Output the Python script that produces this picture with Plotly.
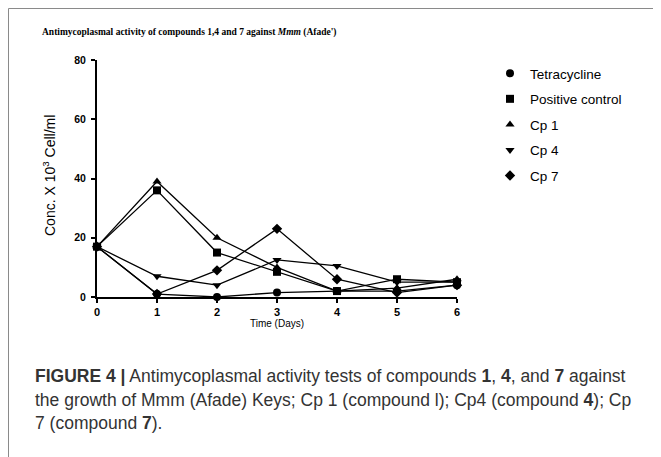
import plotly.graph_objects as go

days = [0, 1, 2, 3, 4, 5, 6]
series_names = ["Tetracycline", "Positive control", "Cp 1", "Cp 4", "Cp 7"]
tetracycline = [17, 1, 0, 1.5, 2, 2, 4]
positive_control = [17, 36, 15, 8.5, 2, 6, 5]
cp1 = [17, 39, 20, 10, 2, 3, 6]
cp4 = [17, 7, 4, 12.5, 10.5, 5, 5]
cp7 = [17, 1, 9, 23, 6, 1.5, 4]
y_ticks = [0, 20, 40, 60, 80]
x_ticks = [0, 1, 2, 3, 4, 5, 6]

symbols = ["circle", "square", "triangle-up", "triangle-down", "diamond"]
values = [tetracycline, positive_control, cp1, cp4, cp7]

# page offset of the figure (browser body margin)
OFF = 8
PLOT_L, PLOT_R, PLOT_T, PLOT_B = 97, 457, 60, 297  # page pixels


def px(page_x):
    return (page_x - PLOT_L) / (PLOT_R - PLOT_L)


def py(page_y):
    return (PLOT_B - page_y) / (PLOT_B - PLOT_T)


fig = go.Figure()
for i, (name, vals, sym) in enumerate(zip(series_names, values, symbols)):
    fig.add_trace(go.Scatter(
        x=days, y=vals, name=name, mode="lines+markers",
        line=dict(color="black", width=1.3),
        marker=dict(symbol=sym, size=8, color="black"),
        showlegend=False, cliponaxis=False,
    ))
# legend entries (marker only, like the reference key)
for i, (name, sym) in enumerate(zip(series_names, symbols)):
    fig.add_trace(go.Scatter(
        x=[None], y=[None], name=name, mode="markers",
        marker=dict(symbol=sym, size=8, color="black"),
        legendgroup=f"g{i}", showlegend=True,
    ))

fig.update_layout(
    width=661 - OFF, height=457 - OFF,
    margin=dict(l=PLOT_L - OFF, r=661 - PLOT_R, t=PLOT_T - OFF, b=457 - PLOT_B),
    paper_bgcolor="white", plot_bgcolor="white",
    showlegend=True,
    legend=dict(x=px(490), y=py(58), xanchor="left", yanchor="top",
                font=dict(family="Liberation Sans, Arial", size=13.5, color="black"),
                tracegroupgap=5, itemwidth=30, bgcolor="rgba(0,0,0,0)"),
    xaxis=dict(range=[0, 6], tickvals=x_ticks, ticktext=["<b>%d</b>" % v for v in x_ticks],
               showline=True, linecolor="black", linewidth=2, ticks="outside",
               ticklen=4, tickwidth=1.5, tickcolor="black", showgrid=False, zeroline=False,
               ticklabelstandoff=0,
               tickfont=dict(family="Liberation Sans, Arial", size=11, color="black"),
               title=dict(text="Time (Days)", font=dict(family="Liberation Sans, Arial", size=10, color="black"), standoff=3)),
    yaxis=dict(range=[0, 80], tickvals=y_ticks, ticktext=["<b>%d</b>" % v for v in y_ticks],
               showline=True, linecolor="black", linewidth=2, ticks="outside",
               ticklen=4, tickwidth=1.5, tickcolor="black", showgrid=False, zeroline=False,
               ticklabelstandoff=3,
               tickfont=dict(family="Liberation Sans, Arial", size=10.5, color="black")),
)

# y-axis title
fig.add_annotation(xref="paper", yref="paper", x=px(49), y=py(176), xanchor="center", yanchor="middle",
                   text="Conc. X 10<sup>3</sup> Cell/ml", textangle=-90, showarrow=False,
                   font=dict(family="Liberation Sans, Arial", size=14, color="black"))

# outer frame
fig.add_shape(type="rect", xref="paper", yref="paper",
              x0=px(OFF + 0.5), x1=px(655.5), y0=py(470), y1=py(OFF + 0.5),
              line=dict(color="#8a8a8a", width=1), fillcolor="rgba(0,0,0,0)", layer="below")

# chart title
fig.add_annotation(xref="paper", yref="paper", x=px(40), y=py(32), xanchor="left", yanchor="middle",
                   text="<b>Antimycoplasmal activity of compounds 1,4 and 7 against <i>Mmm</i> (Afade')</b>",
                   showarrow=False, font=dict(family="Liberation Serif, Times New Roman", size=9.5, color="black"))

caption_font = dict(family="Liberation Sans, Arial", size=17.5, color="#333333")
lines = [
    "<b>FIGURE 4 |</b> Antimycoplasmal activity tests of compounds <b>1</b>, <b>4</b>, and <b>7</b> against",
    "the growth of Mmm (Afade) Keys; Cp 1 (compound l); Cp4 (compound <b>4</b>); Cp",
    "7 (compound <b>7</b>).",
]
for txt, ypx in zip(lines, [376, 400, 423]):
    fig.add_annotation(xref="paper", yref="paper", x=px(33), y=py(ypx),
                       xanchor="left", yanchor="middle", text=txt, showarrow=False,
                       font=caption_font)

fig.write_html("out.html")
